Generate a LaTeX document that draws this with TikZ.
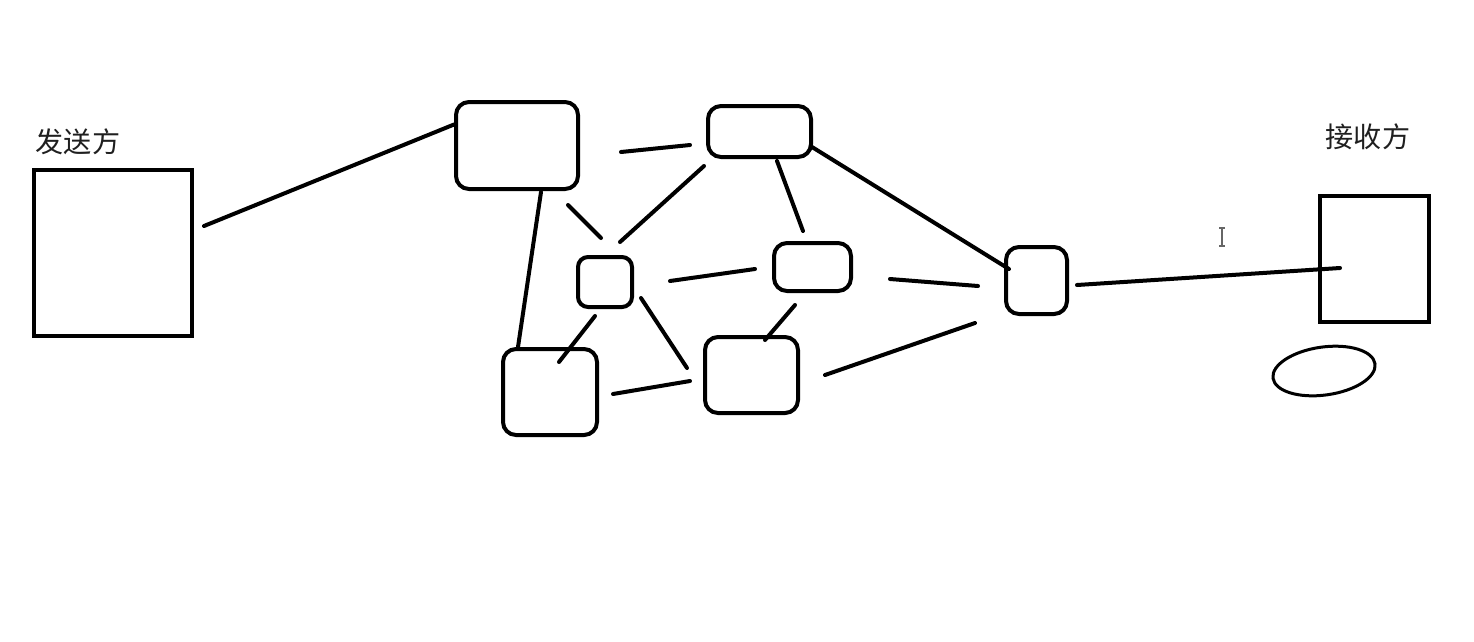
\documentclass[tikz,border=0pt]{standalone}
\usepackage{fontspec}
\newfontfamily\cjk{Noto Sans CJK SC}
\usetikzlibrary{positioning,shapes.geometric,calc}

\begin{document}
\begin{tikzpicture}[
            x=0.2mm, y=-0.2mm,
            font=\cjk\fontsize{16}{18}\selectfont,
            host/.style={draw,line width=0.8mm,inner sep=0pt},
            router/.style={draw,line width=0.8mm,rounded corners=2.6mm,inner sep=0pt},
            link/.style={line width=0.8mm,line cap=round},
            label/.style={text=black!88,inner sep=0pt}
        ]
            \useasboundingbox[fill=white] (0,0) rectangle (1474,641);

            % end hosts
            \node[host, minimum width=31.6mm, minimum height=33.2mm] (sender) at (113,253) {};
            \node[host, minimum width=21.8mm, minimum height=25.2mm] (receiver) at (1374.5,259) {};
            \node[label] (sendtxt) at (78,142) {发送方};
            \node[label] (recvtxt) at (1368,137) {接收方};
            \node[draw, ellipse, line width=0.6mm, minimum width=20.6mm, minimum height=9.6mm, rotate=8, inner sep=0pt] (blob) at (1324,371) {};

            % routers
            \node[router, minimum width=24.4mm, minimum height=17.4mm] (r1) at (517,145.5) {};
            \node[router, minimum width=20.6mm, minimum height=10.2mm] (r2) at (759.5,131.5) {};
            \node[router, minimum width=10.8mm, minimum height=10mm, rounded corners=2mm] (r3) at (605,282) {};
            \node[router, minimum width=15.4mm, minimum height=9.6mm] (r4) at (812.5,267) {};
            \node[router, minimum width=12.2mm, minimum height=13.4mm] (r5) at (1036.5,280.5) {};
            \node[router, minimum width=18.8mm, minimum height=17.2mm] (r6) at (550,392) {};
            \node[router, minimum width=18.6mm, minimum height=15.2mm] (r7) at (751.5,375) {};

            % links
            \draw[link] ($(sender.east)+(10,-27)$) -- ($(r1.west)+(0,-21)$);
            \draw[link] ($(r1.east)+(41,6.5)$) -- ($(r2.west)+(-16,13.5)$);
            \draw[link] ($(r1.south)+(51,14)$) -- ($(r3.north)+(-4,-17)$);
            \draw[link] ($(r2.south)+(-55.5,7)$) -- ($(r3.north)+(15,-13)$);
            \draw[link] ($(r2.south)+(17.5,2)$) -- ($(r4.north)+(-9.5,-10)$);
            \draw[link] ($(r1.south)+(24,1)$) -- ($(r6.north)+(-32,0)$);
            \draw[link] ($(r3.east)+(36,-1)$) -- ($(r4.west)+(-17,2)$);
            \draw[link] ($(r3.south)+(-10,7)$) -- ($(r6.north)+(9,15)$);
            \draw[link] ($(r3.east)+(7,16)$) -- ($(r7.west)+(-16,-7)$);
            \draw[link] ($(r4.south)+(-17.5,12)$) -- ($(r7.north)+(13.5,5)$);
            \draw[link] ($(r6.east)+(14,2)$) -- ($(r7.west)+(-13,6)$);
            \draw[link] ($(r7.east)+(25,0)$) -- ($(r5.west)+(-29,42.5)$);
            \draw[link] ($(r4.east)+(37,12)$) -- ($(r5.west)+(-26,5.5)$);
            \draw[link] ($(r2.east)+(-1,15.5)$) -- ($(r5.west)+(5,-11.5)$);
            \draw[link] ($(r5.east)+(8,4.5)$) -- ($(receiver.west)+(22,9)$);

            % text cursor
            \coordinate (cursor) at (1222,237);
            \draw[black!60, line width=0.3mm] ($(cursor)+(0,-9)$) -- ++(0,18)
                ($(cursor)+(-3,-9)$) -- ++(6,0) ($(cursor)+(-3,9)$) -- ++(6,0);
        \end{tikzpicture}
\end{document}
